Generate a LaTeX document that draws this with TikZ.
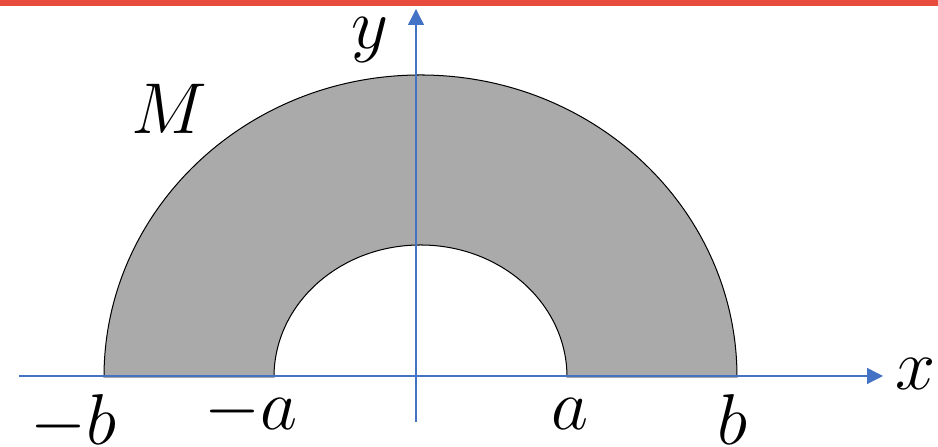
\documentclass[tikz,border=0pt]{standalone}
\usetikzlibrary{arrows.meta}
\definecolor{axisblue}{RGB}{68,114,196}
\definecolor{barred}{RGB}{231,76,60}
\definecolor{regiongray}{RGB}{170,170,170}
\begin{document}
\begin{tikzpicture}[x=0.3456pt, y=0.3456pt,
    axis/.style={axisblue, line width=0.45pt, -{Triangle[length=5.5pt, width=5.5pt]}},
    region/.style={fill=regiongray, draw=black, line width=0.35pt},
    lbl/.style={anchor=base, inner sep=0pt, font=\Huge}]

  \useasboundingbox (0,0) rectangle (938,447);

  % Top bar
  \fill[barred] (0,441) rectangle (938,447);

  % Half ring M
  \draw[region] (104,70) arc[start angle=180, end angle=0, x radius=316.5, y radius=302]
    -- (567,70) arc[start angle=0, end angle=180, x radius=146.5, y radius=132] -- cycle;

  % Axes
  \coordinate (xstart) at (19,71);
  \coordinate (xend) at (883,71);
  \coordinate (ystart) at (416,25);
  \coordinate (yend) at (416,438);
  \draw[axis] (xstart) -- (xend);
  \draw[axis] (ystart) -- (yend);

  % Axis labels
  \node[lbl] (xlabel) at (916,57) {$x$};
  \node[lbl] (ylabel) at (370,398) {$y$};
  \node[lbl] (mlabel) at (169,313) {$M$};

  % Radii on the x axis
  \node[lbl] (minusb) at (73.5,2) {$-b$};
  \node[lbl] (minusa) at (251,17) {$-a$};
  \node[lbl] (plusa) at (569.5,17) {$a$};
  \node[lbl] (plusb) at (732.5,2) {$b$};
\end{tikzpicture}
\end{document}
